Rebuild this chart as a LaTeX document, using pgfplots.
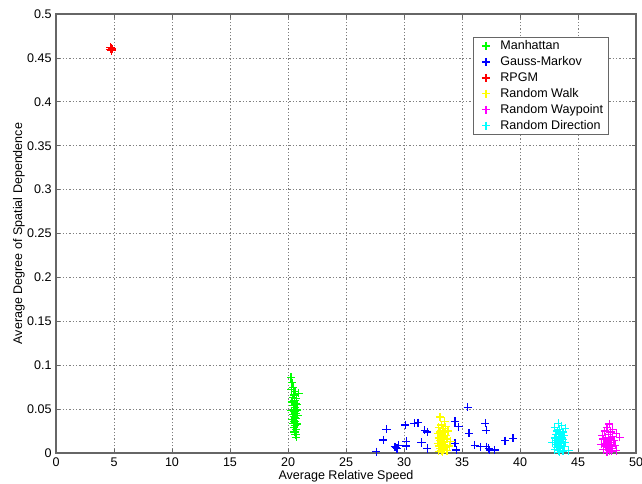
\documentclass[border=0pt]{standalone}
\usepackage{pgfplots}
\pgfplotsset{compat=1.18}
\usepackage{fontspec}
\setmainfont{Liberation Sans}
\definecolor{mgreen}{rgb}{0,1,0}
\definecolor{mblue}{rgb}{0,0,1}
\definecolor{mred}{rgb}{1,0,0}
\definecolor{myellow}{rgb}{1,1,0}
\definecolor{mmagenta}{rgb}{1,0,1}
\definecolor{mcyan}{rgb}{0,1,1}
\begin{document}
\begin{tikzpicture}
\fontsize{9.4}{11.3}\selectfont
\useasboundingbox (-42pt,-22.5pt) rectangle (439.5pt,339.75pt);
\begin{axis}[
  at={(0,0)}, anchor=south west,
  scale only axis, width=435pt, height=329.25pt,
  xmin=0, xmax=50, ymin=0, ymax=0.5,
  xtick={0,5,...,50},
  ytick={0,0.05,0.1,0.15,0.2,0.25,0.3,0.35,0.4,0.45,0.5},
  yticklabels={0,0.05,0.1,0.15,0.2,0.25,0.3,0.35,0.4,0.45,0.5},
  /pgf/number format/assume math mode=true,
  ticklabel style={font=\fontsize{9.4}{11.3}\selectfont},
  grid=major,
  major grid style={black!50, dash pattern=on 1pt off 1.5pt, line width=0.5pt},
  axis line style={black!60, line width=0.8pt},
  tick style={black!60, line width=0.6pt},
  major tick length=3pt,
  tick align=inside,
  clip=false,
  xlabel={Average Relative Speed},
  ylabel={Average Degree of Spatial Dependence},
  xlabel style={at={(axis description cs:0.5,-0.052)}, anchor=center, font=\fontsize{9.4}{11.3}\selectfont},
  ylabel style={at={(axis description cs:-0.064,0.5)}, anchor=center, font=\fontsize{9.4}{11.3}\selectfont},
  legend style={at={(0.953,0.948)}, anchor=north east, draw=black!60, line width=0.6pt,
    font=\fontsize{9.4}{11.3}\selectfont, row sep=-0.2pt, inner xsep=2pt, inner ysep=0.5pt,
    cells={anchor=west}},
  legend image code/.code={\draw[#1] plot coordinates {(0pt,0pt)}; \path[draw=none,fill=none] (-7.7pt,0pt) -- (8.75pt,0pt);},
  every axis plot/.append style={only marks, mark=+, mark size=3.1pt, line width=0.9pt},
]
\addplot[mgreen] table {
20.25 0.086
20.35 0.080
20.45 0.075
20.30 0.072
20.60 0.070
20.90 0.068
20.50 0.066
20.40 0.063
20.70 0.062
20.55 0.060
20.35 0.058
20.65 0.056
20.80 0.055
20.45 0.054
20.60 0.052
20.50 0.050
20.75 0.049
20.30 0.048
20.55 0.047
20.65 0.045
20.40 0.044
20.85 0.043
20.50 0.042
20.60 0.040
20.70 0.039
20.35 0.038
20.55 0.036
20.45 0.034
20.80 0.033
20.60 0.031
20.50 0.029
20.70 0.027
20.55 0.024
20.65 0.021
20.70 0.018
};
\addlegendentry{Manhattan}
\addplot[mblue] table {
27.6 0.0015
28.2 0.0148
28.5 0.027
29.2 0.007
29.3 0.0065
29.4 0.005
29.5 0.009
30.1 0.032
30.2 0.013
30.2 0.008
30.9 0.034
31.2 0.0345
31.5 0.012
31.8 0.026
32.0 0.024
32.0 0.005
34.4 0.036
34.7 0.030
34.4 0.011
34.5 0.0034
35.5 0.052
35.6 0.0224
36.1 0.009
36.6 0.007
37.0 0.034
37.1 0.026
37.1 0.007
37.3 0.005
37.4 0.0034
37.8 0.0034
38.7 0.014
39.4 0.0167
};
\addlegendentry{Gauss-Markov}
\addplot[mred] table {
4.70 0.460
4.80 0.461
4.75 0.459
4.85 0.460
4.70 0.462
4.80 0.458
};
\addlegendentry{RPGM}
\addplot[myellow] table {
33.1 0.041
33.5 0.036
33.2 0.032
33.6 0.030
33.0 0.029
33.4 0.028
33.3 0.026
33.8 0.025
33.1 0.024
33.5 0.023
32.9 0.022
33.3 0.021
33.6 0.020
33.2 0.019
33.4 0.018
33.0 0.017
33.7 0.016
33.3 0.015
33.1 0.014
33.5 0.013
33.2 0.012
32.9 0.011
33.4 0.010
33.6 0.009
33.0 0.008
33.3 0.007
33.5 0.006
33.1 0.005
33.4 0.004
33.2 0.003
33.7 0.003
33.0 0.002
33.3 0.001
33.9 0.008
34.0 0.013
};
\addlegendentry{Random Walk}
\addplot[mmagenta] table {
47.7 0.033
47.5 0.029
48.0 0.027
47.3 0.025
47.8 0.024
48.3 0.022
47.6 0.021
47.1 0.020
48.0 0.019
47.4 0.018
47.8 0.017
48.6 0.018
47.2 0.016
47.6 0.015
48.1 0.014
47.5 0.013
47.9 0.012
47.3 0.011
47.7 0.010
48.2 0.009
47.4 0.008
47.8 0.007
47.6 0.006
48.0 0.005
47.2 0.004
47.7 0.003
47.9 0.002
47.5 0.001
48.3 0.003
47.0 0.010
};
\addlegendentry{Random Waypoint}
\addplot[mcyan] table {
43.3 0.034
43.6 0.031
43.0 0.029
43.9 0.028
43.4 0.027
43.2 0.025
43.7 0.024
43.5 0.022
43.1 0.021
43.8 0.020
43.3 0.019
43.6 0.018
43.0 0.017
43.4 0.016
43.7 0.015
43.2 0.014
43.5 0.013
43.9 0.012
43.3 0.011
43.1 0.010
43.6 0.009
43.4 0.008
43.8 0.007
43.2 0.006
43.5 0.005
43.0 0.004
43.3 0.003
43.7 0.002
43.4 0.001
44.2 0.003
42.8 0.012
};
\addlegendentry{Random Direction}
\end{axis}
\end{tikzpicture}
\end{document}
